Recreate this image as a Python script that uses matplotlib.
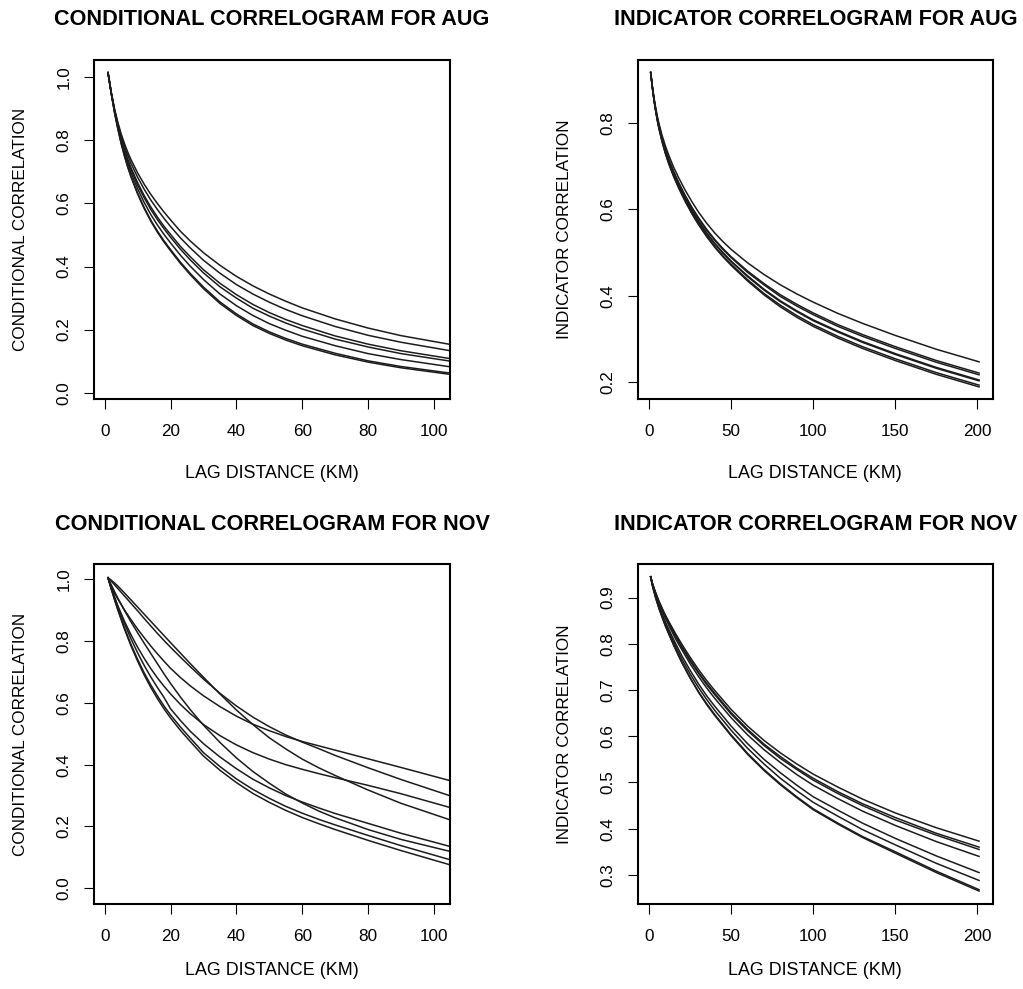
import numpy as np
import matplotlib
matplotlib.use('Agg')
import matplotlib.pyplot as plt

plt.rcParams['font.family'] = ['Liberation Sans', 'DejaVu Sans']

# ---- conditional correlogram, AUG (lag in km) ----
lag_aug_c = [1, 2, 3, 4, 5, 6, 7, 8, 10, 12, 14, 16, 18, 20, 23, 26, 30, 35, 40, 45, 50, 55, 60, 70, 80, 90, 105]
cond_aug = [
    [1.015, .952, .899, .857, .821, .790, .763, .739, .697, .661, .629, .600, .573, .548, .512, .481, .444, .404, .369, .339, .313, .290, .269, .234, .205, .181, .153],
    [1.015, .951, .897, .853, .814, .782, .753, .727, .683, .645, .611, .581, .553, .527, .491, .459, .420, .379, .343, .313, .287, .264, .244, .210, .182, .160, .133],
    [1.015, .950, .894, .847, .806, .771, .740, .713, .666, .625, .589, .557, .528, .502, .464, .431, .390, .347, .311, .280, .254, .232, .213, .180, .154, .133, .108],
    [1.015, .950, .893, .845, .804, .768, .736, .708, .659, .618, .581, .549, .520, .493, .455, .421, .380, .336, .300, .268, .243, .221, .202, .170, .145, .124, .100],
    [1.015, .949, .891, .841, .798, .760, .727, .698, .647, .603, .565, .532, .502, .475, .436, .401, .359, .313, .276, .245, .219, .198, .179, .149, .124, .105, .082],
    [1.015, .948, .888, .837, .791, .752, .717, .686, .633, .587, .547, .513, .482, .454, .414, .378, .335, .288, .250, .218, .193, .172, .154, .125, .101, .083, .062],
    [1.015, .948, .888, .836, .790, .750, .715, .684, .630, .584, .544, .509, .478, .450, .410, .374, .330, .283, .245, .213, .188, .167, .149, .120, .097, .079, .058],
]

# ---- indicator correlogram, AUG ----
lag_aug_i = [1, 2, 3, 4, 5, 6, 8, 10, 12, 15, 18, 22, 26, 30, 35, 40, 45, 50, 60, 70, 80, 90, 100, 115, 130, 150, 175, 201]
ind_aug = [
    [.916, .885, .858, .836, .816, .799, .770, .746, .725, .697, .673, .644, .618, .594, .568, .545, .525, .507, .476, .449, .425, .404, .385, .359, .336, .308, .276, .247],
    [.916, .884, .856, .832, .812, .794, .763, .738, .716, .687, .662, .632, .605, .581, .554, .530, .509, .490, .457, .428, .402, .380, .360, .333, .310, .282, .250, .221],
    [.916, .883, .855, .832, .811, .793, .762, .737, .715, .686, .661, .630, .603, .579, .552, .528, .507, .488, .454, .425, .398, .376, .356, .329, .306, .278, .246, .217],
    [.916, .883, .854, .830, .809, .790, .759, .733, .711, .681, .656, .625, .598, .573, .546, .521, .500, .480, .446, .415, .388, .365, .344, .318, .294, .266, .234, .205],
    [.916, .883, .854, .830, .808, .790, .759, .732, .710, .680, .655, .624, .597, .572, .544, .520, .498, .479, .444, .413, .386, .363, .342, .316, .292, .264, .232, .203],
    [.916, .882, .853, .829, .807, .788, .756, .729, .706, .677, .651, .620, .592, .567, .539, .514, .492, .473, .437, .405, .378, .354, .333, .306, .282, .254, .222, .193],
    [.916, .882, .853, .828, .806, .787, .755, .728, .705, .675, .649, .618, .590, .565, .537, .512, .490, .470, .434, .402, .374, .350, .329, .302, .278, .250, .218, .189],
]

# ---- conditional correlogram, NOV ----
lag_nov_c = [1, 2, 3, 4, 6, 8, 10, 12, 14, 16, 18, 20, 23, 26, 30, 35, 40, 45, 50, 55, 60, 65, 70, 80, 90, 105]
cond_nov = [
    [1.005, .976, .955, .936, .901, .869, .839, .811, .784, .759, .735, .712, .682, .655, .623, .588, .557, .531, .510, .491, .475, .461, .447, .419, .391, .348],
    [1.005, .994, .982, .970, .946, .922, .898, .873, .849, .825, .802, .780, .748, .717, .677, .631, .590, .554, .523, .496, .473, .452, .430, .390, .352, .299],
    [1.005, .970, .942, .914, .864, .820, .780, .744, .711, .681, .654, .629, .595, .565, .530, .494, .464, .439, .418, .400, .385, .371, .358, .333, .306, .261],
    [1.005, .997, .988, .978, .956, .933, .910, .887, .864, .841, .818, .795, .761, .727, .683, .629, .577, .530, .487, .451, .418, .390, .365, .318, .275, .221],
    [1.005, .973, .942, .912, .857, .807, .762, .721, .684, .650, .618, .581, .543, .508, .468, .425, .387, .353, .325, .300, .279, .260, .242, .210, .178, .135],
    [1.005, .982, .960, .939, .899, .862, .827, .793, .760, .727, .694, .663, .619, .578, .528, .472, .422, .378, .340, .305, .276, .250, .228, .190, .158, .119],
    [1.005, .969, .935, .903, .843, .789, .741, .697, .658, .623, .590, .561, .522, .486, .439, .394, .354, .320, .291, .265, .243, .223, .205, .171, .138, .092],
    [1.005, .968, .933, .900, .839, .784, .735, .690, .650, .614, .581, .551, .511, .475, .428, .382, .342, .307, .278, .252, .229, .209, .190, .155, .122, .0755],
]

# ---- indicator correlogram, NOV ----
lag_nov_i = [1, 2, 3, 4, 6, 8, 10, 13, 16, 20, 25, 30, 35, 40, 50, 60, 70, 80, 90, 100, 115, 130, 150, 175, 201]
ind_nov = [
    [.945, .932, .921, .911, .893, .877, .862, .842, .823, .799, .771, .745, .721, .699, .658, .622, .591, .564, .540, .518, .490, .464, .434, .402, .373],
    [.945, .931, .920, .910, .891, .875, .859, .839, .819, .794, .766, .739, .715, .693, .651, .615, .583, .556, .531, .509, .480, .454, .424, .390, .360],
    [.945, .931, .920, .909, .890, .874, .858, .837, .817, .792, .763, .737, .712, .690, .648, .612, .580, .552, .528, .505, .476, .450, .419, .386, .355],
    [.945, .930, .919, .908, .888, .871, .855, .833, .812, .787, .757, .730, .705, .682, .640, .603, .571, .543, .517, .494, .465, .438, .407, .372, .340],
    [.945, .929, .916, .904, .883, .864, .847, .824, .802, .774, .743, .714, .688, .665, .622, .584, .550, .521, .494, .469, .440, .412, .379, .341, .305],
    [.945, .928, .915, .902, .880, .861, .843, .819, .796, .767, .735, .706, .680, .656, .613, .574, .540, .509, .482, .457, .427, .398, .365, .325, .288],
    [.945, .927, .913, .900, .877, .858, .839, .814, .790, .760, .727, .697, .671, .647, .603, .563, .528, .497, .469, .443, .412, .383, .350, .308, .268],
    [.945, .927, .913, .900, .877, .857, .838, .813, .789, .759, .726, .696, .669, .645, .601, .561, .526, .495, .467, .441, .410, .381, .347, .305, .265],
]

W, H = 1023, 989
fig = plt.figure(figsize=(W / 100, H / 100), dpi=100)


def fx(px):
    return px / W


def fy(py):
    return 1 - py / H


def panel(box, title, ylabel, lags, curves, xlim, ylim, xticks, yticks, title_y, xlab_y):
    x0, y0, x1, y1 = box
    ax = fig.add_axes([fx(x0), fy(y1), (x1 - x0) / W, (y1 - y0) / H])
    for c in curves:
        ax.plot(lags, c, color='#1c1c1c', lw=1.1, solid_joinstyle='round')
    ax.set_xlim(*xlim)
    ax.set_ylim(*ylim)
    ax.set_xticks(xticks)
    ax.set_xticklabels([str(t) for t in xticks])
    ax.set_yticks(yticks)
    ax.set_yticklabels(['%.1f' % t for t in yticks])
    for s in ax.spines.values():
        s.set_linewidth(1.5)
    ax.tick_params(axis='both', direction='out', length=7.2, width=0.8,
                   labelsize=12.3, colors='black')
    ax.tick_params(axis='x', pad=11)
    ax.tick_params(axis='y', pad=9, labelrotation=90)
    for lab in ax.get_yticklabels():
        lab.set_va('center')
    cx = (x0 + x1) / 2
    cy = (y0 + y1) / 2
    fig.text(fx(cx), fy(title_y), title, ha='center', va='baseline',
             fontsize=15.6, fontweight='bold')
    fig.text(fx(cx), fy(xlab_y), 'LAG DISTANCE (KM)', ha='center', va='baseline',
             fontsize=12.9)
    fig.text(fx(x0 - 69), fy(cy), ylabel, rotation=90, rotation_mode='anchor',
             ha='center', va='baseline', fontsize=12.3)
    return ax


panel((94.3, 60, 450, 399), 'CONDITIONAL CORRELOGRAM FOR AUG', 'CONDITIONAL CORRELATION',
      lag_aug_c, cond_aug, (-3.16, 104.9), (-0.020, 1.055),
      [0, 20, 40, 60, 80, 100], [0.0, 0.2, 0.4, 0.6, 0.8, 1.0], 25, 478)
panel((637.7, 60, 993, 399), 'INDICATOR CORRELOGRAM FOR AUG', 'INDICATOR CORRELATION',
      lag_aug_i, ind_aug, (-6.9, 209.5), (0.161, 0.945),
      [0, 50, 100, 150, 200], [0.2, 0.4, 0.6, 0.8], 25, 478)
panel((94.3, 564.3, 450, 904), 'CONDITIONAL CORRELOGRAM FOR NOV', 'CONDITIONAL CORRELATION',
      lag_nov_c, cond_nov, (-3.16, 104.9), (-0.051, 1.0485),
      [0, 20, 40, 60, 80, 100], [0.0, 0.2, 0.4, 0.6, 0.8, 1.0], 530, 975)
panel((637.7, 564.3, 993, 904), 'INDICATOR CORRELOGRAM FOR NOV', 'INDICATOR CORRELATION',
      lag_nov_i, ind_nov, (-6.9, 209.5), (0.237, 0.972),
      [0, 50, 100, 150, 200], [0.3, 0.4, 0.5, 0.6, 0.7, 0.8, 0.9], 530, 975)

fig.savefig('out.png', dpi=100)
